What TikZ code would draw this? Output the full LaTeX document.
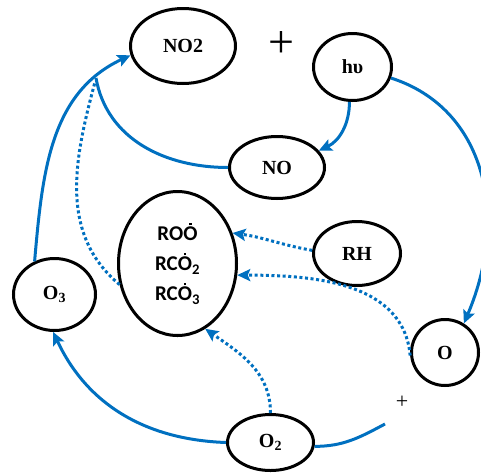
\documentclass[tikz,border=0pt]{standalone}
\usepackage{fontspec}
\setmainfont{Liberation Serif}
\newfontfamily\calibrifont{Carlito}
\usetikzlibrary{shapes.geometric,arrows.meta}
\definecolor{lblue}{RGB}{0,112,192}
\newcommand\Od{\setbox0\hbox{O}\rlap{\hbox to\wd0{\hss\raisebox{0.74em}{\rule{0.12em}{0.12em}}\hss}}O}
\tikzset{
 bub/.style={ellipse, draw=black, line width=3pt, inner sep=0pt, font=\fontsize{20}{24}\selectfont\bfseries},
 flow/.style={draw=lblue, line width=3pt},
 tip/.style={-{Stealth[length=13pt,width=12pt,inset=2.5pt]}},
 dots/.style={draw=lblue, line width=3pt, dash pattern=on 3pt off 2.6pt},
}
\begin{document}
\begin{tikzpicture}[x=1pt,y=-1pt]
\useasboundingbox (0,0) rectangle (481,474);
\node[bub, minimum width=105pt, minimum height=75pt] (no2) at (183,46) {NO2};
\node[bub, minimum width=78pt, minimum height=67pt] (hv) at (352.5,67) {hυ};
\node[bub, minimum width=95pt, minimum height=62pt] (no) at (277,167.5) {NO};
\node[bub, minimum width=118pt, minimum height=144pt, align=center,
      font=\calibrifont\fontsize{21}{30}\selectfont\bfseries] (roo) at (177.5,263.5)
      {RO\Od\\RC\Od\textsubscript{2}\\RC\Od\textsubscript{3}};
\node[bub, minimum width=87pt, minimum height=64pt] (rh) at (357,253.5) {RH};
\node[bub, minimum width=67pt, minimum height=66pt] (o) at (445,352.5) {O};
\node[bub, minimum width=82pt, minimum height=72pt] (o3) at (54.5,294.5) {O\textsubscript{3}};
\node[bub, minimum width=86pt, minimum height=56pt] (o2) at (270.5,442.5) {O\textsubscript{2}};
\node[font=\fontsize{46}{46}\selectfont, inner sep=0pt] (plusA) at (281,45) {+};
\node[font=\fontsize{22}{22}\selectfont, inner sep=0pt] (plusB) at (402,402) {+};
\coordinate (j1) at (96,78);
\coordinate (j2) at (95,82);
\coordinate (e1) at (385,424);
% solid connectors
\draw[flow,tip] (o3.121) to[out=85,in=205] (no2.190);
\draw[flow] (no.west) to[out=180,in=-80] (j1);
\draw[flow,tip] (hv.265) to[out=-90,in=25] (no.22);
\draw[flow,tip] (hv.-16) .. controls +(94,30) and +(46,-108) .. (o.57);
\draw[flow,tip] (o2.west) to[out=178,in=-65] (o3.268);
\draw[flow] (o2.-5) to[out=0,in=208] (e1);
% dotted connectors
\draw[dots] (roo.200) to[out=140,in=255] (j2);
\draw[dots,tip] (rh.176) to[out=170,in=-8] (roo.29);
\draw[dots,tip] (o.185) to[out=95,in=0] (roo.-11);
\draw[dots,tip] (o2.north) to[out=90,in=-35] (roo.-67);
\end{tikzpicture}
\end{document}
